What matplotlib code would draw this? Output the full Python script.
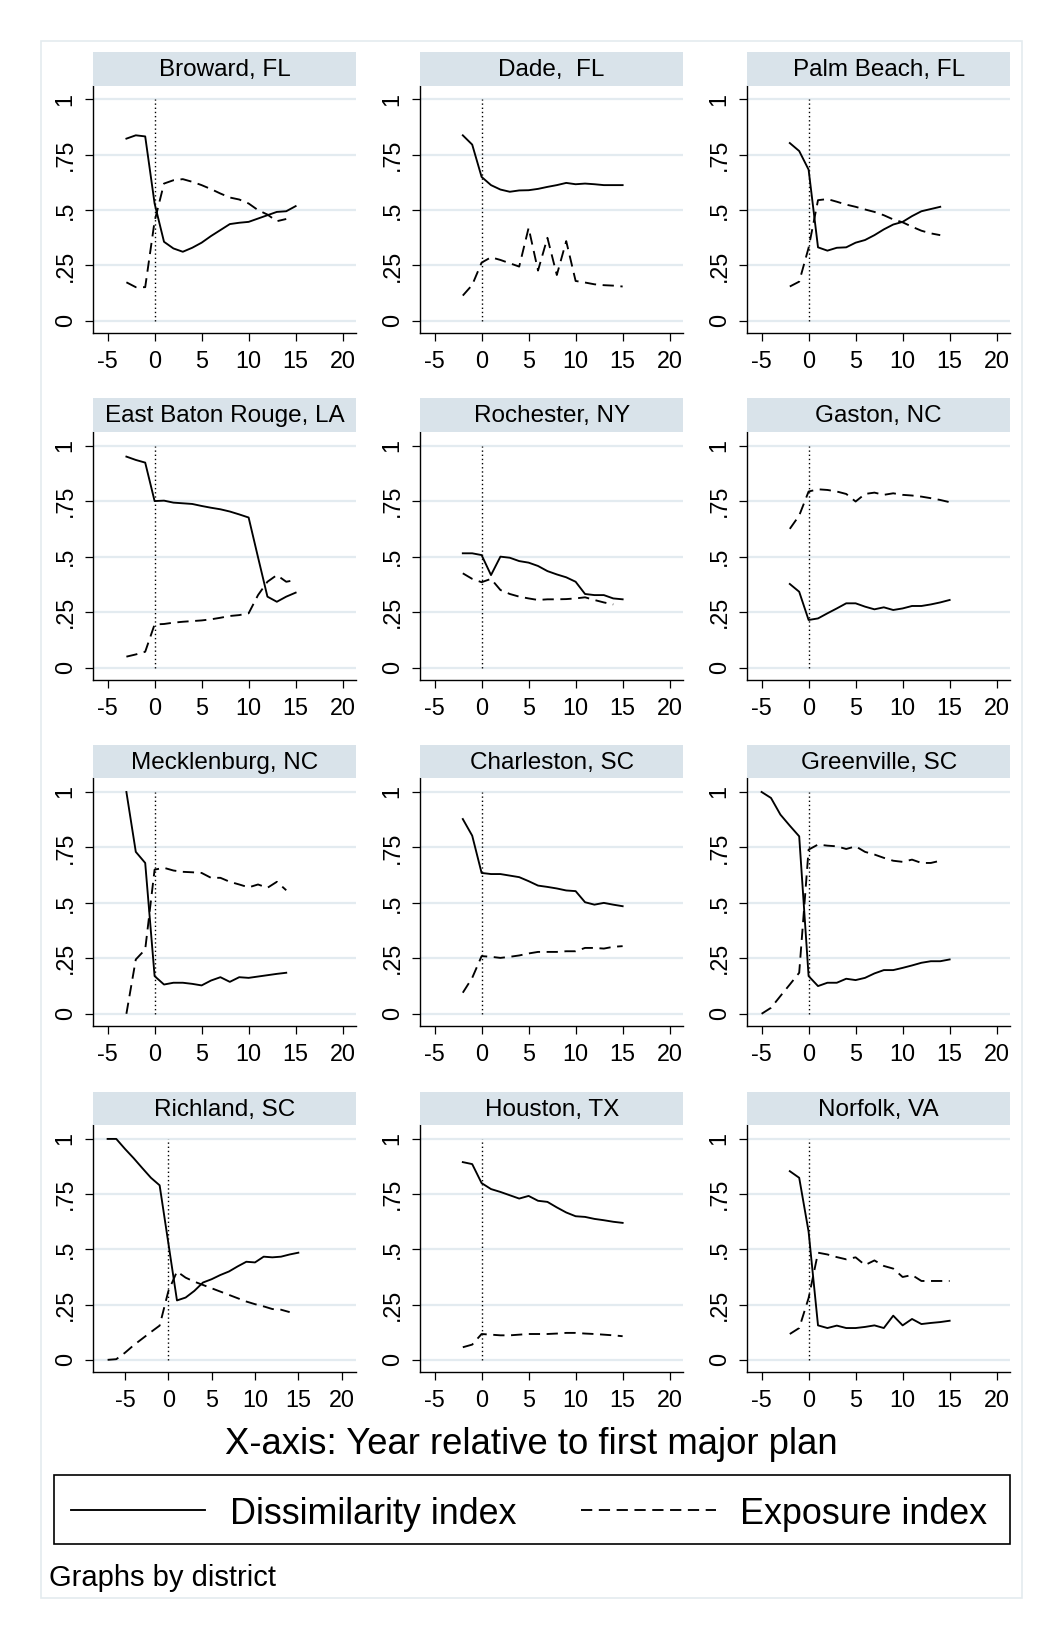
import numpy as np
import matplotlib
matplotlib.use("Agg")
import matplotlib.pyplot as plt
from matplotlib.patches import Rectangle
from matplotlib.lines import Line2D

plt.rcParams['font.family'] = ['Liberation Sans', 'DejaVu Sans']
plt.rcParams['axes.unicode_minus'] = False

# ---------------- data ----------------
districts = ["Broward, FL", "Dade,  FL", "Palm Beach, FL",
             "East Baton Rouge, LA", "Rochester, NY", "Gaston, NC",
             "Mecklenburg, NC", "Charleston, SC", "Greenville, SC",
             "Richland, SC", "Houston, TX", "Norfolk, VA"]

# first year (relative to plan) of each series
diss_start = [-3, -2, -2, -3, -2, -2, -3, -2, -5, -7, -2, -2]
expo_start = [-3, -2, -2, -3, -2, -2, -3, -2, -5, -7, -2, -2]

broward_diss = [0.823, 0.838, 0.833, 0.53, 0.357, 0.327, 0.312, 0.33, 0.353, 0.383, 0.41,
                0.437, 0.443, 0.447, 0.462, 0.477, 0.492, 0.495, 0.518]
broward_expo = [0.174, 0.152, 0.152, 0.45, 0.62, 0.635, 0.64, 0.628, 0.613, 0.595, 0.575,
                0.557, 0.548, 0.53, 0.5, 0.48, 0.45, 0.46]

dade_diss = [0.838, 0.796, 0.65, 0.613, 0.593, 0.583, 0.589, 0.59, 0.596, 0.605, 0.613,
             0.623, 0.617, 0.62, 0.617, 0.613, 0.613, 0.613]
dade_expo = [0.114, 0.162, 0.263, 0.287, 0.275, 0.26, 0.245, 0.42, 0.227, 0.375, 0.207,
             0.36, 0.18, 0.173, 0.165, 0.161, 0.159, 0.155]

palm_diss = [0.803, 0.767, 0.683, 0.332, 0.317, 0.33, 0.332, 0.353, 0.365, 0.387, 0.413,
             0.435, 0.447, 0.473, 0.495, 0.505, 0.515]
palm_expo = [0.155, 0.177, 0.33, 0.545, 0.55, 0.538, 0.525, 0.515, 0.503, 0.492, 0.477,
             0.458, 0.445, 0.425, 0.407, 0.395, 0.387]

ebr_diss = [0.95, 0.935, 0.923, 0.75, 0.752, 0.743, 0.74, 0.737, 0.728, 0.72, 0.713,
            0.703, 0.69, 0.676, 0.497, 0.32, 0.297, 0.32, 0.338]
ebr_expo = [0.05, 0.06, 0.072, 0.195, 0.197, 0.203, 0.207, 0.21, 0.213, 0.218, 0.225,
            0.233, 0.237, 0.245, 0.327, 0.387, 0.417, 0.387, 0.395]

roch_diss = [0.515, 0.515, 0.507, 0.417, 0.5, 0.495, 0.48, 0.473, 0.458, 0.435, 0.42,
             0.407, 0.387, 0.332, 0.327, 0.327, 0.312, 0.308]
roch_expo = [0.425, 0.40, 0.385, 0.40, 0.35, 0.332, 0.32, 0.312, 0.305, 0.308, 0.308,
             0.309, 0.312, 0.317, 0.305, 0.294, 0.285]

gaston_diss = [0.377, 0.342, 0.215, 0.222, 0.245, 0.267, 0.29, 0.29, 0.275, 0.263, 0.272,
               0.26, 0.267, 0.278, 0.278, 0.285, 0.294, 0.305]
gaston_expo = [0.625, 0.685, 0.793, 0.803, 0.8, 0.793, 0.782, 0.748, 0.782, 0.788, 0.778,
               0.785, 0.778, 0.775, 0.77, 0.763, 0.755, 0.745]

meck_diss = [1.0, 0.73, 0.68, 0.17, 0.132, 0.14, 0.14, 0.135, 0.128, 0.15, 0.165,
             0.144, 0.165, 0.162, 0.168, 0.174, 0.18, 0.185]
meck_expo = [0.0, 0.245, 0.29, 0.65, 0.658, 0.646, 0.64, 0.638, 0.635, 0.613, 0.613,
             0.595, 0.583, 0.57, 0.583, 0.568, 0.595, 0.557]

charl_diss = [0.878, 0.803, 0.635, 0.63, 0.63, 0.623, 0.616, 0.598, 0.578, 0.572, 0.565,
              0.556, 0.553, 0.503, 0.492, 0.5, 0.492, 0.485]
charl_expo = [0.095, 0.162, 0.26, 0.257, 0.252, 0.257, 0.263, 0.272, 0.279, 0.279, 0.279,
              0.282, 0.282, 0.297, 0.297, 0.294, 0.302, 0.305]

green_diss = [1.0, 0.973, 0.898, 0.848, 0.8, 0.17, 0.125, 0.14, 0.14, 0.158, 0.152,
              0.162, 0.182, 0.197, 0.197, 0.207, 0.218, 0.23, 0.237, 0.237, 0.245]
green_expo = [0.0, 0.027, 0.08, 0.132, 0.185, 0.74, 0.763, 0.758, 0.755, 0.743, 0.755,
              0.73, 0.718, 0.703, 0.69, 0.685, 0.695, 0.68, 0.68, 0.69]

rich_diss = [1.0, 1.0, 0.955, 0.913, 0.868, 0.824, 0.79, 0.53, 0.269, 0.282, 0.312,
             0.35, 0.365, 0.384, 0.4, 0.423, 0.444, 0.441, 0.467, 0.464, 0.467, 0.477, 0.485]
rich_expo = [0.0, 0.003, 0.032, 0.066, 0.096, 0.126, 0.155, 0.31, 0.4, 0.372, 0.354,
             0.339, 0.324, 0.309, 0.294, 0.279, 0.264, 0.252, 0.242, 0.23, 0.227, 0.216]

hou_diss = [0.895, 0.886, 0.8, 0.773, 0.76, 0.745, 0.73, 0.742, 0.72, 0.715, 0.69,
            0.667, 0.65, 0.647, 0.638, 0.632, 0.625, 0.62]
hou_expo = [0.057, 0.069, 0.117, 0.114, 0.111, 0.111, 0.114, 0.117, 0.117, 0.117, 0.119,
            0.122, 0.122, 0.119, 0.117, 0.114, 0.111, 0.107]

norf_diss = [0.854, 0.824, 0.58, 0.156, 0.144, 0.155, 0.144, 0.144, 0.149, 0.156, 0.144,
             0.2, 0.156, 0.185, 0.162, 0.167, 0.171, 0.177]
norf_expo = [0.117, 0.144, 0.28, 0.485, 0.477, 0.465, 0.455, 0.464, 0.429, 0.45, 0.425,
             0.413, 0.375, 0.384, 0.357, 0.357, 0.357, 0.357]

diss_series = [broward_diss, dade_diss, palm_diss, ebr_diss, roch_diss, gaston_diss,
               meck_diss, charl_diss, green_diss, rich_diss, hou_diss, norf_diss]
expo_series = [broward_expo, dade_expo, palm_expo, ebr_expo, roch_expo, gaston_expo,
               meck_expo, charl_expo, green_expo, rich_expo, hou_expo, norf_expo]

x_ticks = [-5, 0, 5, 10, 15, 20]
y_ticks = [0, 0.25, 0.5, 0.75, 1]
y_ticklabels = ["0", ".25", ".5", ".75", "1"]

# ---------------- layout ----------------
W, H = 1050, 1627
fig = plt.figure(figsize=(W / 100, H / 100), dpi=100)
fig.patch.set_facecolor("white")


def box(l, t, r, b):
    return [l / W, 1 - b / H, (r - l) / W, (b - t) / H]


col_left = [93.3, 420.3, 747.3]
col_right = [356, 683, 1010]
row_top = [85.5, 431.5, 778, 1125]
row_bottom = [333, 680, 1026, 1372]
strip_h = 33.5

grid_color = "#e3ebf0"
strip_color = "#d9e3ea"
dash = (0, (6, 3.5))

# outer frame
fig.patches.append(Rectangle((41 / W, 1 - 1598 / H), (1022 - 41) / W, (1598 - 41) / H,
                             transform=fig.transFigure, fill=False,
                             edgecolor="#e4ebef", lw=1.2))

for i, name in enumerate(districts):
    r, c = divmod(i, 3)
    ax = fig.add_axes(box(col_left[c], row_top[r], col_right[c], row_bottom[r]))
    d = diss_series[i]
    e = expo_series[i]
    xd = np.arange(diss_start[i], diss_start[i] + len(d))
    xe = np.arange(expo_start[i], expo_start[i] + len(e))
    ax.plot(xd, d, color="black", lw=1.35, zorder=3)
    ax.plot(xe, e, color="black", lw=1.35, linestyle=dash, zorder=3)
    ax.vlines(0, 0, 1, colors="black", linestyles=(0, (1, 2)), lw=1.0, zorder=2)

    if i == 9:
        ax.set_xlim(-8.65, 21.65)
    else:
        ax.set_xlim(-6.52, 21.42)
    ax.set_ylim(-0.055, 1.063)
    ax.set_xticks(x_ticks)
    ax.set_yticks(y_ticks)
    ax.set_yticklabels(y_ticklabels)
    ax.yaxis.grid(True, color=grid_color, lw=1.6)
    ax.set_axisbelow(True)
    for s in ["top", "right"]:
        ax.spines[s].set_visible(False)
    for s in ["left", "bottom"]:
        ax.spines[s].set_linewidth(1.0)
    ax.tick_params(axis="both", direction="out", length=6, width=0.9,
                   labelsize=16.8, pad=6)
    for lab in ax.get_yticklabels():
        lab.set_rotation(90)
        lab.set_va("center")

    # strip
    sax = fig.add_axes(box(col_left[c], row_top[r] - strip_h, col_right[c], row_top[r]))
    sax.set_facecolor(strip_color)
    sax.set_xticks([])
    sax.set_yticks([])
    for s in sax.spines.values():
        s.set_visible(False)
    sax.text(0.5, 0.45, name, ha="center", va="center", fontsize=17.5,
             transform=sax.transAxes)

# axis title
fig.text(531.7 / W, 1 - 1445 / H, "X-axis: Year relative to first major plan",
         ha="center", va="center", fontsize=26.3)

# legend box
fig.patches.append(Rectangle((54 / W, 1 - 1544 / H), (1010 - 54) / W, (1544 - 1475) / H,
                             transform=fig.transFigure, fill=False,
                             edgecolor="black", lw=1.2))
ly = 1 - 1509.5 / H
ty = 1 - 1514 / H
fig.lines.append(Line2D([70.5 / W, 205.4 / W], [ly, ly], transform=fig.transFigure,
                        color="black", lw=1.35))
fig.text(230 / W, ty, "Dissimilarity index", ha="left", va="center", fontsize=25.8)
fig.lines.append(Line2D([581 / W, 716 / W], [ly, ly], transform=fig.transFigure,
                        color="black", lw=1.35, linestyle=dash))
fig.text(740 / W, ty, "Exposure index", ha="left", va="center", fontsize=25.8)

fig.text(49 / W, 1 - 1578 / H, "Graphs by district", ha="left", va="center",
         fontsize=21)

fig.savefig("out.png", dpi=100, facecolor="white")
